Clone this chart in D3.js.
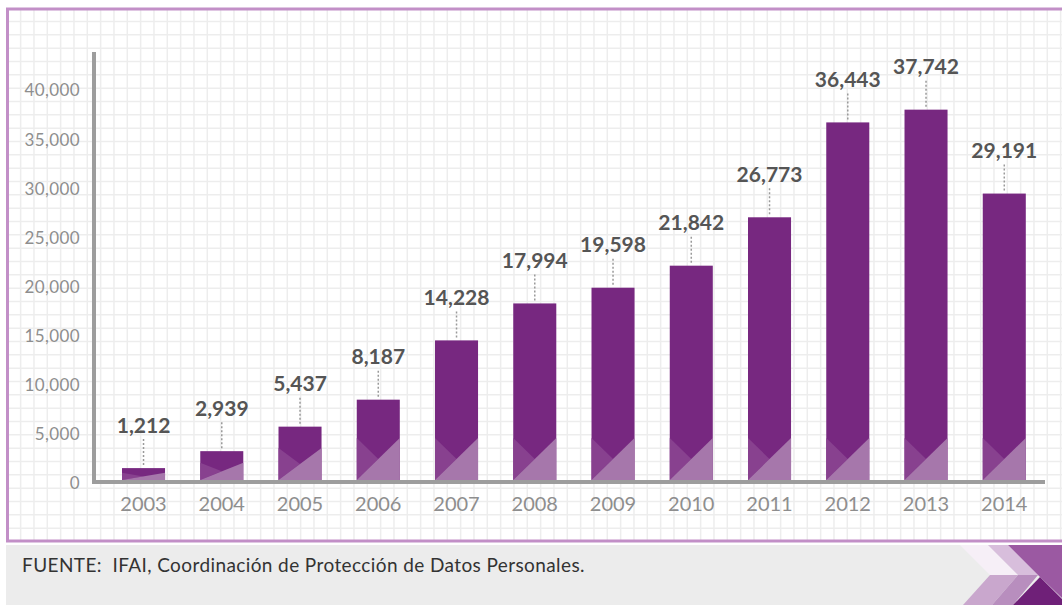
<!DOCTYPE html>
<html>
<head>
<meta charset="utf-8">
<script src="https://cdn.jsdelivr.net/npm/d3@7"></script>
<style>
  body { margin: 0; background: #fff; }
  svg { display: block; font-family: Lato, "Open Sans", sans-serif; }
</style>
</head>
<body>
<svg></svg>
<script>
// -----------------------------
// DATA
// -----------------------------
const years = ["2003", "2004", "2005", "2006", "2007", "2008",
               "2009", "2010", "2011", "2012", "2013", "2014"];
const values = [1212, 2939, 5437, 8187, 14228, 17994,
                19598, 21842, 26773, 36443, 37742, 29191];
const yTicks = [0, 5000, 10000, 15000, 20000, 25000, 30000, 35000, 40000];
const source = "FUENTE:  IFAI, Coordinación de Protección de Datos Personales.";

let data = years.map((y, i) => ({ year: y, value: values[i] }));

// -----------------------------
// SETUP
// -----------------------------
let width = 1062,
    height = 605;

let svg = d3.select("svg")
            .attr("width", width)
            .attr("height", height);

// background grid inside the frame
let grid = svg.append("g");
let cell = 40 / 3;
d3.range(7.3 + cell, width, cell).forEach(x => {
  grid.append("line")
      .attr("x1", x).attr("x2", x)
      .attr("y1", 10).attr("y2", 540)
      .attr("stroke", "#ededed")
      .attr("stroke-width", 1.5);
});
d3.range(8.2 + cell, 540, cell).forEach(y => {
  grid.append("line")
      .attr("x1", 8).attr("x2", width)
      .attr("y1", y).attr("y2", y)
      .attr("stroke", "#ededed")
      .attr("stroke-width", 1.5);
});

// frame (open on the right)
svg.append("rect")
   .attr("x", 7.5).attr("y", 9)
   .attr("width", width + 20).attr("height", 532)
   .attr("fill", "none")
   .attr("stroke", "#c28fc7")
   .attr("stroke-width", 3);

// -----------------------------
// SCALES
// -----------------------------
let xScale = d3.scaleBand()
               .domain(years)
               .range([104.4, 1043.4])
               .paddingInner(0.45)
               .paddingOuter(0.225);

let yScale = d3.scaleLinear()
               .domain([0, 40000])
               .range([480, 87.5]);

// -----------------------------
// BARS
// -----------------------------
let bars = svg.append("g")
              .selectAll("g")
              .data(data)
              .enter()
              .append("g");

bars.append("rect")
    .attr("x", d => xScale(d.year))
    .attr("y", d => yScale(d.value))
    .attr("width", xScale.bandwidth())
    .attr("height", d => yScale(0) - yScale(d.value))
    .attr("fill", "#772880");

// triangle decoration at the foot of each bar
function foot(d) {
  let x0 = xScale(d.year),
      x1 = x0 + xScale.bandwidth(),
      b = yScale(0),
      ph = Math.min(42, (b - yScale(d.value)) * 0.6),
      t = b - ph;
  return { x0, x1, b, t, cx: (x0 + x1) / 2, cy: b - ph / 2 };
}

bars.append("polygon")
    .attr("points", d => {
      let f = foot(d);
      return [[f.x0, f.t], [f.cx, f.cy], [f.x0, f.b]].join(" ");
    })
    .attr("fill", "#88418f");

bars.append("polygon")
    .attr("points", d => {
      let f = foot(d);
      return [[f.x0, f.b], [f.x1, f.t], [f.x1, f.b]].join(" ");
    })
    .attr("fill", "#a677ab");

// leader lines + value labels
bars.append("line")
    .attr("x1", d => xScale(d.year) + xScale.bandwidth() / 2)
    .attr("x2", d => xScale(d.year) + xScale.bandwidth() / 2)
    .attr("y1", d => yScale(d.value) - 3)
    .attr("y2", d => yScale(d.value) - 30)
    .attr("stroke", "#9a9a9a")
    .attr("stroke-width", 1.5)
    .attr("stroke-dasharray", "2,2");

bars.append("text")
    .attr("x", d => xScale(d.year) + xScale.bandwidth() / 2)
    .attr("y", d => yScale(d.value) - 35.5)
    .attr("text-anchor", "middle")
    .attr("font-size", 21)
    .attr("font-weight", "bold")
    .attr("fill", "#555555")
    .text(d => d3.format(",")(d.value));

// -----------------------------
// AXES
// -----------------------------
svg.append("line")
   .attr("x1", 94).attr("x2", 94)
   .attr("y1", 52).attr("y2", 484)
   .attr("stroke", "#9d9d9d")
   .attr("stroke-width", 4);

svg.append("line")
   .attr("x1", 92).attr("x2", 1045)
   .attr("y1", 482).attr("y2", 482)
   .attr("stroke", "#9d9d9d")
   .attr("stroke-width", 4);

let yAxis = svg.append("g")
               .attr("transform", "translate(88, 3)")
               .call(d3.axisLeft(yScale)
                       .tickValues(yTicks)
                       .tickFormat(d3.format(","))
                       .tickSize(0)
                       .tickPadding(8));
yAxis.select(".domain").remove();
yAxis.selectAll("text")
     .attr("font-size", 17)
     .attr("letter-spacing", 0.4)
     .attr("font-family", "Lato, sans-serif")
     .attr("fill", "#8e8e8e");

let xAxis = svg.append("g")
               .attr("transform", "translate(0, 484)")
               .call(d3.axisBottom(xScale).tickSize(0).tickPadding(13));
xAxis.select(".domain").remove();
xAxis.selectAll("text")
     .attr("font-size", 20)
     .attr("font-family", "Lato, sans-serif")
     .attr("fill", "#8e8e8e");

// -----------------------------
// FOOTER
// -----------------------------
svg.append("rect")
   .attr("x", 6).attr("y", 545)
   .attr("width", width - 6).attr("height", 60)
   .attr("fill", "#ececec");

let chevrons = [
  { pts: [[960, 545], [988, 545], [1018, 575], [990, 575]], fill: "#f6eff7" },
  { pts: [[988, 545], [1008, 545], [1038, 575], [1018, 575]], fill: "#d8bedc" },
  { pts: [[990, 575], [1018, 575], [992, 605], [963, 605]], fill: "#c9a7cd" },
  { pts: [[1018, 575], [1038, 575], [1013, 605], [992, 605]], fill: "#b88ebe" },
  { pts: [[1008, 545], [1062, 545], [1062, 598], [1040, 577]], fill: "#9b59a2" },
  { pts: [[1013, 605], [1040, 577], [1062, 599], [1062, 605]], fill: "#6f2078" }
];
svg.append("g")
   .selectAll("polygon")
   .data(chevrons)
   .enter()
   .append("polygon")
   .attr("points", d => d.pts.join(" "))
   .attr("fill", d => d.fill);

svg.append("text")
   .attr("x", 22)
   .attr("y", 572)
   .attr("font-size", 19)
   .attr("letter-spacing", 0.4)
   .attr("fill", "#333")
   .style("white-space", "pre")
   .text(source);
</script>
</body>
</html>
